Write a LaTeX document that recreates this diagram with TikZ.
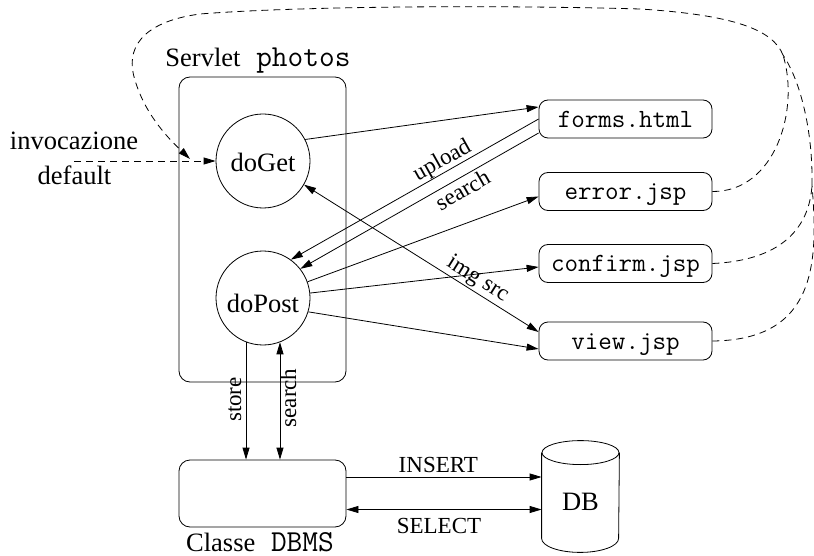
\documentclass[tikz,border=0pt]{standalone}
\usepackage{fontspec}
\setmainfont{Liberation Serif}
\usetikzlibrary{arrows.meta,calc}
\newcommand{\bigtt}[1]{{\fontsize{30.5}{34}\selectfont\ttfamily #1}}
\begin{document}
\begin{tikzpicture}[x=1pt,y=-1pt,line width=0.8pt,
  >={Triangle[length=12pt,width=7pt]},
  big/.style={font=\fontsize{26.5}{31}\selectfont},
  small/.style={font=\fontsize{23}{27}\selectfont},
  method/.style={circle,draw,minimum size=94pt,inner sep=0pt,big,text depth=0pt},
  page/.style={draw,rounded corners=9pt,minimum width=173pt,minimum height=38pt,inner sep=0pt,
    font=\fontsize{26.3}{30}\selectfont\ttfamily,text height=17pt,text depth=0pt},
  cont/.style={draw,rounded corners=11pt,inner sep=0pt,minimum width=167pt},
  lbl/.style={small,inner sep=0pt},
  dsh/.style={dash pattern=on 7pt off 5pt},
]
\useasboundingbox (0,0) rectangle (814,556);

% containers
\node[cont,minimum height=305pt] (servlet) at (262.5,229.5) {};
\node[big,anchor=base,inner sep=0pt] (servletlbl) at (258,67) {Servlet\bigtt{\ photos}};
\node[cont,minimum height=67pt] (dbms) at (262.5,493.5) {};
\node[big,anchor=base,inner sep=0pt] (dbmslbl) at (260,551.5) {Classe\bigtt{\ DBMS}};

% methods
\node[method,text height=22pt] (doGet) at (263,161) {doGet};
\node[method,text height=28pt] (doPost) at (263,298) {doPost};

% pages
\node[page] (forms) at (625.5,119) {forms.html};
\node[page] (error) at (625.5,191.5) {error.jsp};
\node[page] (confirm) at (625.5,263.5) {confirm.jsp};
\node[page] (view) at (625.5,341) {view.jsp};

% database
\node[big,minimum width=77pt,minimum height=111pt,inner sep=0pt,text height=27pt,text depth=0pt] (db) at (580.5,496.5) {DB};
\draw ($(db.north west)+(0,12)$) -- ($(db.south west)+(0,-14)$)
  arc[start angle=180,end angle=360,x radius=38.5pt,y radius=14pt]
  -- ($(db.north east)+(0,12)$);
\draw ($(db.north)+(0,12)$) ellipse[x radius=38.5pt,y radius=12pt];

% invocazione default
\node[big,anchor=base,inner sep=0pt] (inv1) at (74,150) {invocazione};
\node[big,anchor=base,inner sep=0pt] (inv2) at (74.5,185) {default};
\coordinate (invs) at (74,161);
\draw[dsh,->] (invs) -- (doGet);

% solid connectors
\draw[->] (doGet.27) -- ($(forms.west)+(0,-12)$);
\draw[->] (forms.west) -- (doPost.54);
\draw[->] ($(forms.west)+(0,14)$) -- (doPost.38);
\draw[->] (doPost.20) -- ($(error.west)+(0,5)$);
\draw[->] (doPost.6) -- ($(confirm.west)+(0,3.5)$);
\draw[->] (doPost.-17) -- ($(view.west)+(0,8)$);
\draw[<->] (doGet.-30) -- ($(view.west)+(0,-9)$);

\node[lbl,rotate=29.2] (lupload) at (442.5,161) {upload};
\node[lbl,rotate=29.8] (lsearch) at (462.5,190) {search};
\node[lbl,rotate=-32] (limg) at (477.5,279.5) {img src};

% vertical
\draw[->] (doPost.249) -- (doPost.249 |- dbms.north);
\draw[<->] (doPost.291 |- dbms.north) -- (doPost.291);
\node[lbl,rotate=90,anchor=base] (lstore) at (241,399.5) {store};
\node[lbl,rotate=90,anchor=base] (lsearch2) at (296,398) {search};

% DB connectors
\draw[->] ($(dbms.east)+(0,-16.5)$) coordinate (ins) -- (ins -| db.west);
\draw[<->] ($(dbms.east)+(0,16)$) coordinate (sel) -- (sel -| db.west);
\node[lbl,anchor=base] (linsert) at (438.3,472) {INSERT};
\node[lbl,anchor=base] (lselect) at (439,533) {SELECT};

% dashed return curves
\coordinate (J) at (783,55);
\coordinate (K) at (812,185);
\coordinate (E) at (190,159);
\draw[dsh,->] (J) .. controls (773,30) and (735,15) .. (640,9)
  .. controls (500,5) and (300,6) .. (200,14)
  .. controls (140,22) and (125,50) .. (135,80)
  .. controls (145,115) and (170,140) .. (E);
\draw[dsh] (error.east) .. controls (775,192) and (800,110) .. (J);
\draw[dsh] (K) .. controls (813,130) and (800,80) .. (J);
\draw[dsh] (confirm.east) .. controls (790,260) and (810,220) .. (K);
\draw[dsh] (view.east) .. controls (818,340) and (818,260) .. (K);
\end{tikzpicture}
\end{document}
